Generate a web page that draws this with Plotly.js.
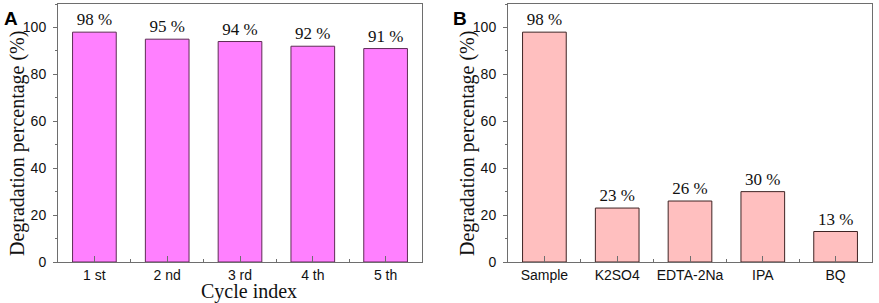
<!DOCTYPE html>
<html><head><meta charset="utf-8">
<script src="https://cdn.plot.ly/plotly-3.0.1.min.js"></script>
<style>html,body{margin:0;padding:0;background:#fff}#chart{width:879px;height:303px}</style>
</head><body><div id="chart"></div>
<script>
// Panel A: recycling test
const cyclesA = ["1 st", "2 nd", "3 rd", "4 th", "5 th"];
const degradationA = [98, 95, 94, 92, 91];
// Panel B: trapping experiment
const scavengersB = ["Sample", "K2SO4", "EDTA-2Na", "IPA", "BQ"];
const degradationB = [98, 23, 26, 30, 13];
const yTicks = [0, 20, 40, 60, 80, 100];
const yTitle = "Degradation percentage (%)";
const xTitleA = "Cycle index";

const idxA = cyclesA.map((_, i) => i);
const idxB = scavengersB.map((_, i) => i);

const serif = "Liberation Serif, Times New Roman, serif";
const sans = "Liberation Sans, Arial, sans-serif";
const axisColor = "#6e6e6e";

const W = 879, H = 303, T = 4, B = 262;
const py = v => (B - v) / (B - T);   // pixel row -> paper y

const traceA = {
  type: "bar", x: idxA, y: degradationA, width: 0.6,
  marker: {color: "#ff80ff", line: {color: "#5e2c55", width: 1}},
  texttemplate: "%{y} %", textposition: "outside", cliponaxis: false,
  textfont: {family: serif, size: 17, color: "#111"},
  xaxis: "x", yaxis: "y", hoverinfo: "skip"
};
const traceB = {
  type: "bar", x: idxB, y: degradationB, width: 0.6,
  marker: {color: "#ffbfbf", line: {color: "#3f2424", width: 1}},
  texttemplate: "%{y} %", textposition: "outside", cliponaxis: false,
  textfont: {family: serif, size: 17, color: "#111"},
  xaxis: "x2", yaxis: "y2", hoverinfo: "skip"
};

function xAxis(domain, labels, idx, anchor) {
  return {
    domain: domain, anchor: anchor, range: [-0.5, labels.length - 0.5],
    tickmode: "array", tickvals: idx, ticktext: labels,
    ticks: "inside", ticklen: 6, tickwidth: 1, tickcolor: axisColor,
    ticklabelstandoff: 0,
    minor: {tickmode: "linear", tick0: 0.5, dtick: 1, ticks: "inside", ticklen: 3, tickcolor: axisColor},
    showline: true, linecolor: axisColor, linewidth: 1, mirror: true,
    showgrid: false, zeroline: false,
    tickfont: {family: sans, size: 14, color: "#111"},
    title: {text: ""}
  };
}
function yAxis(anchor) {
  return {
    domain: [0, 1], anchor: anchor, range: [0, 110],
    tickmode: "array", tickvals: yTicks,
    ticks: "outside", ticklen: 4, tickwidth: 1, tickcolor: axisColor,
    ticklabelstandoff: 4,
    minor: {tickmode: "linear", tick0: 10, dtick: 20, ticks: "outside", ticklen: 2, tickcolor: axisColor},
    showline: true, linecolor: axisColor, linewidth: 1, mirror: true,
    showgrid: false, zeroline: false,
    tickfont: {family: sans, size: 14, color: "#111"},
    title: {text: ""}
  };
}

const titleFont = {family: serif, size: 20, color: "#111"};
const layout = {
  width: W, height: H,
  margin: {l: 0, r: 0, t: T, b: H - B},
  paper_bgcolor: "#fff", plot_bgcolor: "#fff",
  showlegend: false, bargap: 0.4,
  xaxis: xAxis([58 / W, 422 / W], cyclesA, idxA, "y"),
  yaxis: yAxis("x"),
  xaxis2: xAxis([508 / W, 872 / W], scavengersB, idxB, "y2"),
  yaxis2: yAxis("x2"),
  annotations: [
    {text: yTitle, textangle: -90, xref: "paper", yref: "paper", x: 17 / W, y: py(144),
     xanchor: "center", yanchor: "middle", showarrow: false, font: titleFont},
    {text: yTitle, textangle: -90, xref: "paper", yref: "paper", x: 467 / W, y: py(144),
     xanchor: "center", yanchor: "middle", showarrow: false, font: titleFont},
    {text: xTitleA, xref: "paper", yref: "paper", x: 248.5 / W, y: py(291),
     xanchor: "center", yanchor: "middle", showarrow: false, font: titleFont},
    {text: "<b>A</b>", xref: "paper", yref: "paper", x: 2 / W, y: 1, xanchor: "left", yanchor: "top",
     yshift: -2, showarrow: false, font: {family: sans, size: 19, color: "#000"}},
    {text: "<b>B</b>", xref: "paper", yref: "paper", x: 451 / W, y: 1, xanchor: "left", yanchor: "top",
     yshift: -2, showarrow: false, font: {family: sans, size: 19, color: "#000"}}
  ]
};

Plotly.newPlot("chart", [traceA, traceB], layout, {displayModeBar: false, staticPlot: true});
</script>
</body></html>
